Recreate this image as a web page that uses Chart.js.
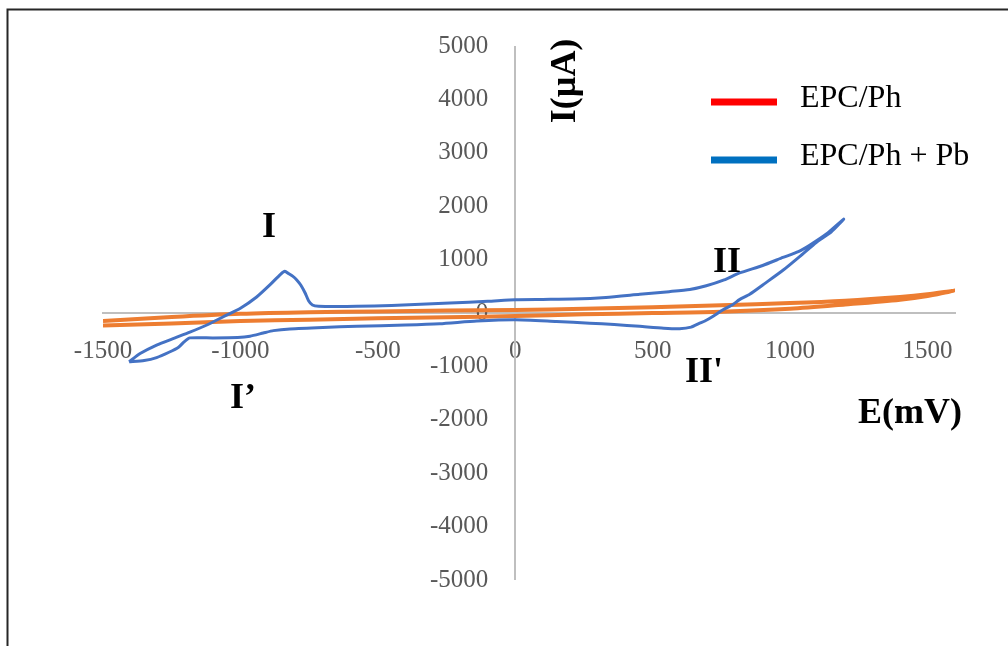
<!DOCTYPE html>
<html>
<head>
<meta charset="utf-8">
<script src="https://cdn.jsdelivr.net/npm/chart.js@4.4.1/dist/chart.umd.min.js"></script>
<style>
  html, body { margin: 0; padding: 0; background: #fff; }
  canvas { display: block; }
</style>
</head>
<body>
<canvas id="cvChart" width="1008" height="646"></canvas>
<script>
// EPC/Ph: forward scan then return scan (mV, µA)
const ephE = [-1500, -1250, -1000, -750, -500, -250, 0, 250, 500, 750, 1000, 1200, 1400, 1500, 1600,
              1500, 1400, 1200, 1000, 750, 500, 250, 0, -250, -500, -750, -1000, -1250, -1500];
const ephI = [-150, -75, -15, 15, 30, 45, 55, 80, 110, 145, 185, 230, 300, 350, 420,
              320, 250, 160, 80, 25, 0, -25, -55, -80, -100, -125, -150, -195, -235];

// EPC/Ph + Pb: anodic branch then cathodic branch
const pbE = [-1405, -1365, -1305, -1240, -1184, -1120, -1062, -1000, -941, -890, -855, -838,
             -825, -810, -795, -780, -765, -752, -738, -715, -650, -577, -450, -238, -100, 0,
             100, 210, 330, 453, 560, 635, 695, 760, 816, 900, 974, 1030, 1071, 1132, 1195,
             1150, 1095, 1040, 974, 910, 853, 816, 792, 756, 720, 690, 671, 640, 598, 540,
             453, 360, 271, 150, 0, -140, -275, -400, -577, -700, -820, -880, -917, -965,
             -1010, -1100, -1184, -1205, -1225, -1260, -1305, -1350, -1405];
const pbI = [-915, -760, -600, -470, -360, -220, -70, 90, 300, 540, 720, 780,
             740, 690, 620, 520, 380, 230, 150, 125, 120, 125, 140, 187, 220, 250,
             255, 260, 290, 350, 400, 440, 510, 620, 750, 890, 1040, 1150, 1270, 1480, 1760,
             1520, 1320, 1080, 800, 560, 350, 250, 160, 60, -60, -150, -190, -265, -295, -285,
             -250, -215, -190, -160, -125, -150, -200, -225, -250, -270, -298, -330, -375, -435,
             -458, -466, -466, -540, -640, -735, -835, -890, -915];

const seriesNames = ['EPC/Ph', 'EPC/Ph + Pb'];
const xTicks = [-1500, -1000, -500, 0, 500, 1000, 1500];
const yTicks = [-5000, -4000, -3000, -2000, -1000, 0, 1000, 2000, 3000, 4000, 5000];

const toPoints = (xs, ys) => xs.map((x, i) => ({ x: x, y: ys[i] }));

const tickFont = { family: 'Liberation Serif', size: 25 };
const tickColor = '#595959';
const axisColor = '#bfbfbf';

// text drawn over the plot: peak names and axis titles
const notes = [
  { text: 'I', x: 269, y: 237 },
  { text: 'I\u2019', x: 243, y: 408 },
  { text: 'II', x: 727, y: 272 },
  { text: "II'", x: 704, y: 382 },
  { text: 'E(mV)', x: 910, y: 423 }
];

const decor = {
  id: 'decor',
  beforeDraw(chart) {
    const ctx = chart.ctx;
    ctx.save();
    ctx.fillStyle = '#ffffff';
    ctx.fillRect(0, 0, chart.width, chart.height);
    ctx.restore();
  },
  beforeDatasetsDraw(chart) {
    // vertical axis line through E = 0 (the y labels sit a bit to its left)
    const ctx = chart.ctx;
    const x0 = Math.round(chart.scales.x.getPixelForValue(0));
    ctx.save();
    ctx.strokeStyle = axisColor;
    ctx.lineWidth = 2;
    ctx.beginPath();
    ctx.moveTo(x0, chart.chartArea.top);
    ctx.lineTo(x0, chart.chartArea.bottom);
    ctx.stroke();
    ctx.restore();
  },
  afterDraw(chart) {
    const ctx = chart.ctx;
    ctx.save();

    // outer frame (top and left only)
    ctx.strokeStyle = '#262626';
    ctx.lineWidth = 2;
    ctx.beginPath();
    ctx.moveTo(7.5, chart.height);
    ctx.lineTo(7.5, 9.5);
    ctx.lineTo(chart.width, 9.5);
    ctx.stroke();

    // legend
    chart.data.datasets.forEach((ds, i) => {
      const y = 102 + i * 58;
      ctx.strokeStyle = ds.legendColor;
      ctx.lineWidth = 7;
      ctx.beginPath();
      ctx.moveTo(711, y);
      ctx.lineTo(777, y);
      ctx.stroke();
      ctx.fillStyle = '#000000';
      ctx.font = '32px "Liberation Serif"';
      ctx.textAlign = 'left';
      ctx.textBaseline = 'alphabetic';
      ctx.fillText(ds.label, 800, y + 5);
    });

    ctx.fillStyle = '#000000';
    ctx.font = 'bold 36px "Liberation Serif"';
    ctx.textAlign = 'center';
    ctx.textBaseline = 'alphabetic';
    notes.forEach(n => ctx.fillText(n.text, n.x, n.y));

    // vertical axis title
    ctx.translate(575, 81);
    ctx.rotate(-Math.PI / 2);
    ctx.fillText('I(\u00b5A)', 0, 0);

    ctx.restore();
  }
};

new Chart(document.getElementById('cvChart'), {
  type: 'scatter',
  data: {
    datasets: [
      {
        label: seriesNames[0],
        data: toPoints(ephE, ephI),
        showLine: true,
        borderColor: '#ed7d31',
        borderWidth: 4,
        pointRadius: 0,
        tension: 0.3,
        order: 1,
        legendColor: '#ff0000'
      },
      {
        label: seriesNames[1],
        data: toPoints(pbE, pbI),
        showLine: true,
        borderColor: '#4472c4',
        borderWidth: 3,
        pointRadius: 0,
        tension: 0.2,
        order: 0,
        legendColor: '#0070c0'
      }
    ]
  },
  options: {
    responsive: false,
    animation: false,
    devicePixelRatio: 1,
    layout: { padding: { left: 103, right: 53, top: 46, bottom: 66 } },
    plugins: {
      legend: { display: false },
      tooltip: { enabled: false }
    },
    scales: {
      x: {
        type: 'linear',
        min: -1500,
        max: 1600,
        position: { y: 0 },
        grid: { display: false, drawTicks: false },
        border: { color: axisColor, width: 2 },
        afterBuildTicks: axis => { axis.ticks = xTicks.map(v => ({ value: v })); },
        ticks: {
          font: tickFont,
          color: tickColor,
          padding: 23,
          maxRotation: 0,
          autoSkip: false,
          callback: v => String(v)
        }
      },
      y: {
        type: 'linear',
        min: -5000,
        max: 5000,
        // labels are right-aligned on this value, i.e. about 27 px left of E = 0
        position: { x: -98 },
        grid: { display: false, drawTicks: false },
        border: { display: false },
        afterBuildTicks: axis => { axis.ticks = yTicks.map(v => ({ value: v })); },
        ticks: {
          font: tickFont,
          color: tickColor,
          autoSkip: false,
          callback: v => String(v)
        }
      }
    }
  },
  plugins: [decor]
});
</script>
</body>
</html>
